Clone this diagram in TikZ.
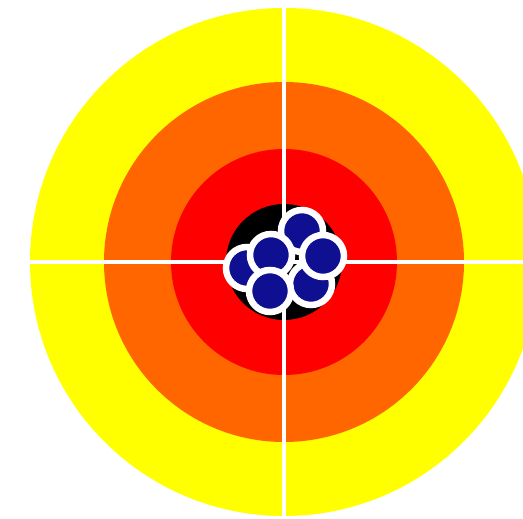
\documentclass[tikz,border=0pt]{standalone}
\usepackage{tikz}

\definecolor{ringyellow}{RGB}{255,255,0}
\definecolor{ringorange}{RGB}{255,102,0}
\definecolor{ringred}{RGB}{255,0,0}
\definecolor{shotblue}{RGB}{15,15,145}

\tikzset{
  shot/.style={fill=shotblue, draw=white, line width=6.5pt}
}

\begin{document}
\begin{tikzpicture}[x=1pt, y=1pt]
  % Page frame and clipping.
  \fill[white] (0,0) rectangle (523,519);
  \useasboundingbox (0,0) rectangle (523,519);
  \clip (0,0) rectangle (523,519);
  % Target rings, outside in.
  \fill[ringyellow] (284,257) circle (254);
  \fill[ringorange] (284,257) circle (180);
  \fill[ringred]    (284,257) circle (113);
  \fill[black]      (284,257) circle (58);
  % White cross hairs.
  \draw[white, line width=4pt] (284,0) -- (284,519);
  \draw[white, line width=4pt] (30,257) -- (523,257);
  % Grouped shots, back ones first.
  \foreach \sx/\sy in {247/251, 311/235, 302/288, 271/264, 323/263, 270/228}
    \filldraw[shot] (\sx,\sy) circle (21);
\end{tikzpicture}
\end{document}
